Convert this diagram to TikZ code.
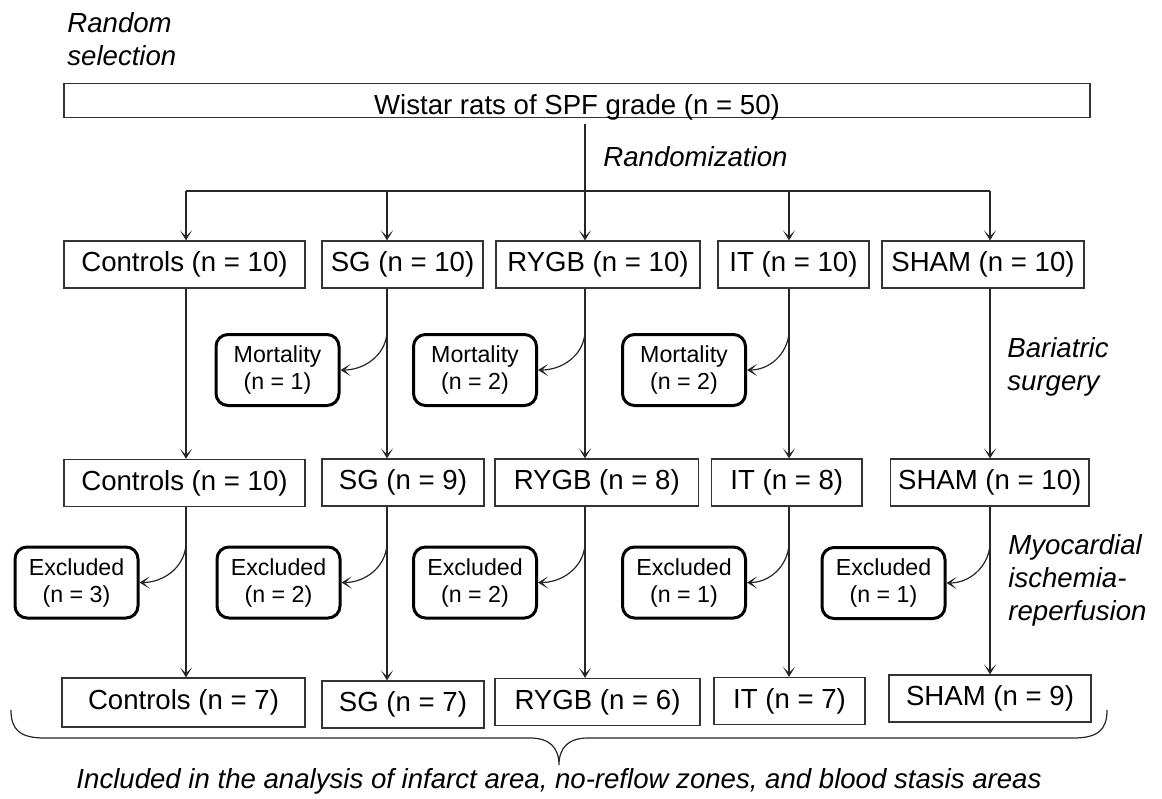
\documentclass[tikz,border=0pt]{standalone}
\usepackage{fontspec}
\setmainfont{Liberation Sans}
\usetikzlibrary{arrows.meta}

\begin{document}
\begin{tikzpicture}[
    x=0.5pt, y=-0.5pt,
    grp/.style ={draw=black!80, line width=0.6pt, inner sep=0pt, minimum height=23.5pt,
                 font=\fontsize{13.8pt}{16.5pt}\selectfont},
    loss/.style={draw=black, line width=1.5pt, rounded corners=6pt, inner sep=0pt,
                 minimum width=61.5pt, minimum height=35.5pt, align=center,
                 font=\fontsize{11.6pt}{13.5pt}\selectfont},
    note/.style={font=\fontsize{13.8pt}{16.5pt}\selectfont\itshape, align=left, inner sep=0pt},
    ln/.style  ={draw=black!85, line width=0.6pt},
    arr/.style ={ln, -{Stealth[length=5pt, width=6pt, inset=3pt]}},
    drop/.style={arr, out=-95, in=0}
  ]
  \useasboundingbox (0,0) rectangle (1162,798);

  %% ---- source population -------------------------------------------
  \node[grp, minimum width=513pt, minimum height=17pt, text height=15.5pt, text depth=1.5pt,
        anchor=south] (rats) at (577,118) {Wistar rats of SPF grade (n = 50)};
  \coordinate (rats-out) at ([yshift=-3pt]rats.south);

  \node[note, anchor=north west] (sel) at (67,12) {Random\\selection};
  \node[note, anchor=west] (rnd) at (603,157) {Randomization};

  %% ---- groups (three stages) ----------------------------------------
  \node[grp, minimum width=120.5pt] (c1) at (184.5,264.5) {Controls (n = 10)};
  \node[grp, minimum width=80.5pt]  (s1) at (402.5,264.5) {SG (n = 10)};
  \node[grp, minimum width=102pt]   (r1) at (598,264.5)   {RYGB (n = 10)};
  \node[grp, minimum width=75.5pt]  (i1) at (793.5,264.5) {IT (n = 10)};
  \node[grp, minimum width=101pt]   (h1) at (983,264.5)   {SHAM (n = 10)};

  \node[grp, minimum width=120.5pt] (c2) at (184.5,483)   {Controls (n = 10)};
  \node[grp, minimum width=81pt]    (s2) at (403,482.5)   {SG (n = 9)};
  \node[grp, minimum width=101.75pt](r2) at (596.75,482.5){RYGB (n = 8)};
  \node[grp, minimum width=75.25pt] (i2) at (786.75,482.5){IT (n = 8)};
  \node[grp, minimum width=99.25pt] (h2) at (989.75,482.5){SHAM (n = 10)};

  \node[grp, minimum width=121.5pt, minimum height=24.5pt] (c3) at (183.5,702.5) {Controls (n = 7)};
  \node[grp, minimum width=81pt]    (s3) at (403,704.5)   {SG (n = 7)};
  \node[grp, minimum width=102.5pt] (r3) at (597.5,702)   {RYGB (n = 6)};
  \node[grp, minimum width=75.5pt]  (i3) at (789.5,701)   {IT (n = 7)};
  \node[grp, minimum width=101pt]   (h3) at (990,698.5)   {SHAM (n = 9)};

  %% ---- losses ---------------------------------------------------------
  \node[loss] (m1) at (277.5,370) {Mortality\\(n = 1)};
  \node[loss] (m2) at (475,370)   {Mortality\\(n = 2)};
  \node[loss] (m3) at (684,370)   {Mortality\\(n = 2)};

  \node[loss] (e1) at (76.5,582.5)  {Excluded\\(n = 3)};
  \node[loss] (e2) at (278.5,582.5) {Excluded\\(n = 2)};
  \node[loss] (e3) at (475,582.5)   {Excluded\\(n = 2)};
  \node[loss] (e4) at (684,582.5)   {Excluded\\(n = 1)};
  \node[loss] (e5) at (883.5,583)   {Excluded\\(n = 1)};

  \node[note, anchor=west] (bar) at (1007,366.5) {Bariatric\\surgery};
  \node[note, anchor=west] (mir) at (1008,580)   {Myocardial\\ischemia-\\reperfusion};

  %% ---- connectors -----------------------------------------------------
  \foreach \g/\x in {c/186, s/387, r/585, i/789, h/990}
    \coordinate (col-\g) at (\x,191);
  \coordinate (fork1) at (0,333);
  \coordinate (fork2) at (0,545);

  \draw[ln] (rats-out -| col-r) -- (col-r);
  \draw[ln] (col-c) -- (col-h);
  \foreach \g in {c,s,r,i,h} {
    \draw[arr] (col-\g) -- (col-\g |- \g1.north);
    \draw[arr] (\g1.south -| col-\g) -- (\g2.north -| col-\g);
    \draw[arr] (\g2.south -| col-\g) -- (\g3.north -| col-\g);
  }
  \foreach \g/\n in {s/m1, r/m2, i/m3}
    \draw[drop] (col-\g |- fork1) to (\n.east);
  \foreach \g/\n in {c/e1, s/e2, r/e3, i/e4, h/e5}
    \draw[drop] (col-\g |- fork2) to (\n.east);

  %% ---- brace and footer -----------------------------------------------
  \draw[ln] (11,710) .. controls (11,730) and (20,738) .. (45,738) -- (530,738)
    .. controls (550,738) and (559,748) .. (559,765)
    .. controls (559,748) and (568,738) .. (588,738) -- (1073,738)
    .. controls (1098,738) and (1107,730) .. (1107,710);
  \node[note, anchor=center] (incl) at (559,781)
    {Included in the analysis of infarct area, no-reflow zones, and blood stasis areas};

\end{tikzpicture}
\end{document}
